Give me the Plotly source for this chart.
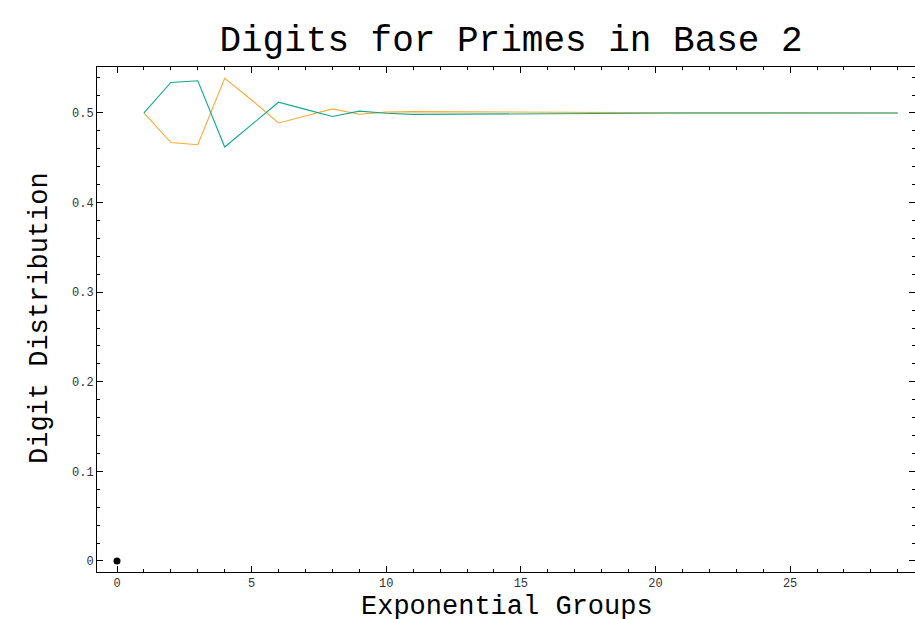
import plotly.graph_objects as go

# Data
groups = list(range(1, 30))
digit_teal = [0.5, 0.534, 0.536, 0.462, 0.487, 0.512, 0.504, 0.496, 0.502, 0.4996,
              0.4984, 0.4986, 0.4986, 0.4992, 0.4990, 0.4994, 0.4996, 0.4997, 0.4998, 0.4998,
              0.4999, 0.4999, 0.4999, 0.5, 0.5, 0.5, 0.5, 0.5, 0.5]
digit_orange = [0.5, 0.467, 0.4646, 0.5387, 0.5145, 0.4888, 0.4967, 0.5045, 0.4985, 0.5009,
                0.5015, 0.5013, 0.5015, 0.5008, 0.5006, 0.5005, 0.5003, 0.5002, 0.5002, 0.5001,
                0.5001, 0.5001, 0.5001, 0.5, 0.5, 0.5, 0.5, 0.5, 0.5]
origin_x = [0]
origin_y = [0]
x_ticks = [0, 5, 10, 15, 20, 25]
y_ticks = [0, 0.1, 0.2, 0.3, 0.4, 0.5]
y_tick_labels = ["0", "0.1", "0.2", "0.3", "0.4", "0.5"]

MONO = "Liberation Mono, Courier New, monospace"

fig = go.Figure()
fig.add_trace(go.Scatter(x=groups, y=digit_orange, mode="lines",
                         line=dict(color="#F7AA35", width=1.1), name="1"))
fig.add_trace(go.Scatter(x=groups, y=digit_teal, mode="lines",
                         line=dict(color="#12A892", width=1.1), name="0"))
fig.add_trace(go.Scatter(x=origin_x, y=origin_y, mode="markers",
                         marker=dict(color="black", size=7), name="origin"))

axis_common = dict(showline=True, linecolor="black", linewidth=1, mirror="ticks",
                   ticks="inside", ticklen=6, tickwidth=1, tickcolor="black",
                   showgrid=False, zeroline=False,
                   tickfont=dict(family=MONO, size=12, color="#333333"))

fig.update_xaxes(range=[-0.743, 29.64], tickvals=x_ticks,
                 minor=dict(ticks="inside", dtick=1, ticklen=3, tickcolor="black", showgrid=False),
                 **axis_common)
fig.update_yaxes(range=[-0.0123, 0.5513], tickvals=y_ticks, ticktext=y_tick_labels,
                 minor=dict(ticks="inside", dtick=0.02, ticklen=3, tickcolor="black", showgrid=False),
                 **axis_common)

fig.update_layout(
    width=915, height=619,
    margin=dict(l=97, r=0, t=67, b=47),
    plot_bgcolor="white", paper_bgcolor="white",
    showlegend=False,
    title=dict(text="Digits for Primes in Base 2", x=0.5585, xref="container",
               y=1 - 38 / 619, yref="container", xanchor="center", yanchor="middle",
               font=dict(family=MONO, size=36, color="black")),
    annotations=[
        dict(text="Exponential Groups", xref="paper", yref="paper",
             x=(507 - 97) / 818, y=-35 / 505, xanchor="center", yanchor="middle",
             showarrow=False, font=dict(family=MONO, size=27, color="black")),
        dict(text="Digit Distribution", xref="paper", yref="paper",
             x=(40 - 97) / 818, y=(572 - 318) / 505, xanchor="center", yanchor="middle",
             textangle=-90, showarrow=False, font=dict(family=MONO, size=27, color="black")),
    ],
)

fig.write_html("out.html", config={"displayModeBar": False},
               post_script="document.body.style.margin='0';document.body.style.overflow='hidden';")
